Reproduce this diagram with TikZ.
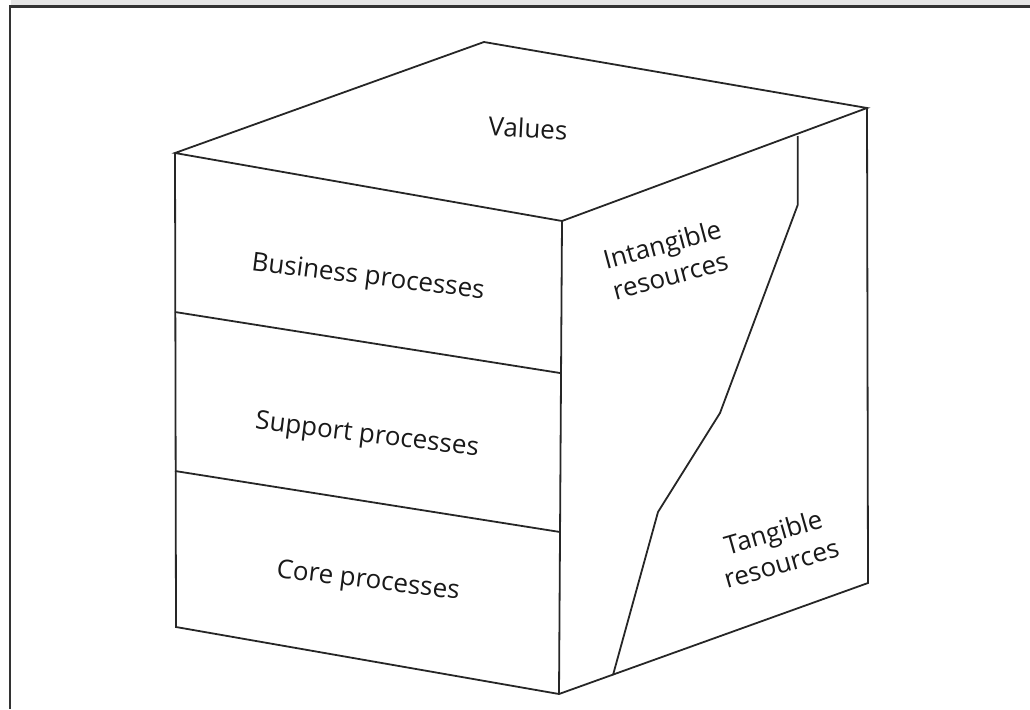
\documentclass[tikz,border=0pt]{standalone}
\usepackage{fontspec}
\setmainfont{Open Sans}
\begin{document}
\begin{tikzpicture}[x=1pt,y=-1pt,
  edge/.style={line width=1.8pt,line join=miter,black!85},
  lab/.style={font=\fontsize{26}{31}\selectfont,align=center,text=black!90,inner sep=0pt}]
\useasboundingbox (0,0) rectangle (1030,709);
% frame
\fill[black!10] (11,0) rectangle (1030,5.5);
\draw[line width=2.6pt,black!80] (10,6.5) -- (1030,6.5);
\draw[line width=2.6pt,black!80] (10,5.3) -- (10,709);
% cube vertices
\coordinate (tl) at (175,153);
\coordinate (tb) at (484,42);
\coordinate (tr) at (867,108);
\coordinate (tm) at (562,221);
\coordinate (bm) at (559,694);
\coordinate (bl) at (176,627);
\coordinate (br) at (868,583);
\coordinate (l1) at (175,312);
\coordinate (l2) at (175,471);
\coordinate (m1) at (560,373);
\coordinate (m2) at (560,532);
\coordinate (j0) at (797.7,136);
\coordinate (j1) at (797.7,205);
\coordinate (j2) at (720,413);
\coordinate (j3) at (658,512);
\coordinate (j4) at (613,675);
% cube
\draw[edge] (tl) -- (tb) -- (tr) -- (tm) -- cycle;
\draw[edge] (tl) -- (bl) -- (bm) -- (br) -- (tr);
\draw[edge] (tm) -- (bm);
\draw[edge] (l1) -- (m1);
\draw[edge] (l2) -- (m2);
\draw[edge] (j0) -- (j1) -- (j2) -- (j3) -- (j4);
% labels
\node[lab,rotate=-3] (values) at (528,128) {Values};
\node[lab,rotate=-7] (bp) at (368,278) {Business processes};
\node[lab,rotate=-7] (sp) at (367,436) {Support processes};
\node[lab,rotate=-7] (cp) at (368,582) {Core processes};
\node[lab,rotate=15] (ir1) at (663,247) {Intangible};
\node[lab,rotate=15] (ir2) at (671,278) {resources};
\node[lab,rotate=16] (tr1) at (774,535) {Tangible};
\node[lab,rotate=16] (tr2) at (782,566) {resources};
\end{tikzpicture}
\end{document}
